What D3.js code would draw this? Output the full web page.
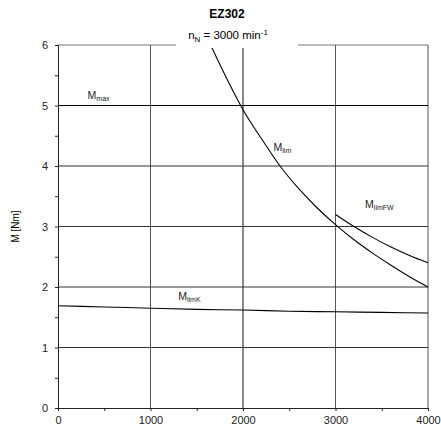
<!DOCTYPE html>
<html lang="en">
<head>
  <meta charset="UTF-8">
  <title>EZ302</title>
  <style>
    html, body { margin: 0; padding: 0; background: #fff; overflow: hidden; }
    svg { display: block; font-family: "Liberation Sans", Arial, sans-serif; }
  </style>
</head>
<body>
  <svg width="441" height="435"></svg>
</body>
<script src="https://d3js.org/d3.v7.min.js"></script>
<script type="text/javascript">
  const xTicks = [0, 1000, 2000, 3000, 4000]
  const yTicks = [0, 1, 2, 3, 4, 5, 6]

  // torque curves: [speed min-1, torque Nm]
  const mMax = [[0, 5], [4000, 5]]
  const mLim = [[1650, 6], [1800, 5.52], [2000, 4.93], [2200, 4.45], [2400, 4.0], [2600, 3.63],
    [2800, 3.31], [3000, 3.03], [3200, 2.78], [3400, 2.56], [3600, 2.36], [3800, 2.17], [4000, 2.0]]
  const mLimFW = [[3000, 3.2], [3200, 3.0], [3400, 2.82], [3600, 2.66], [3800, 2.52], [4000, 2.4]]
  const mLimK = [[0, 1.69], [500, 1.67], [1000, 1.65], [1500, 1.63], [2000, 1.62],
    [2500, 1.6], [3000, 1.59], [3500, 1.58], [4000, 1.57]]

  const labels = [
    { main: 'M', sub: 'max', at: [320, 5.1] },
    { main: 'M', sub: 'lim', at: [2330, 4.25] },
    { main: 'M', sub: 'limFW', at: [3320, 3.3] },
    { main: 'M', sub: 'limK', at: [1300, 1.78] }
  ]

  const svg = d3.select('svg')
  const x = d3.scaleLinear().domain([0, 4000]).range([58, 428])
  const y = d3.scaleLinear().domain([0, 6]).range([408, 45])

  // grid
  svg.append('g')
    .selectAll('line')
    .data(xTicks.slice(1))
    .enter().append('line')
      .attr('x1', d => x(d)).attr('x2', d => x(d))
      .attr('y1', y(0)).attr('y2', y(6))
      .attr('stroke', d => d === 2000 ? '#111' : '#555')
      .attr('stroke-width', 1)

  svg.append('g')
    .selectAll('line')
    .data(yTicks.slice(1))
    .enter().append('line')
      .attr('x1', x(0)).attr('x2', x(4000))
      .attr('y1', d => y(d)).attr('y2', d => y(d))
      .attr('stroke', d => d === 6 ? '#777' : '#333')
      .attr('stroke-width', 1)

  // axes
  const yAxis = svg.append('g')
    .attr('transform', `translate(${x(0)},0)`)
    .call(d3.axisLeft(y).tickValues(d3.range(0, 6.01, 0.5)).tickSize(3)
      .tickFormat(d => Number.isInteger(d) ? d : ''))
  const xAxis = svg.append('g')
    .attr('transform', `translate(0,${y(0)})`)
    .call(d3.axisBottom(x).tickValues(d3.range(0, 4001, 500)).tickSize(3)
      .tickFormat(d => d % 1000 === 0 ? d : ''))

  ;[yAxis, xAxis].forEach(a => {
    a.select('.domain').attr('stroke', '#222')
    a.selectAll('.tick line').attr('stroke', '#222')
    a.selectAll('text').attr('font-size', 11).attr('fill', '#222')
      .attr('font-family', '"Liberation Sans", Arial, sans-serif')
  })
  yAxis.selectAll('text').attr('x', -10).attr('dy', '0.36em')
  xAxis.selectAll('text').attr('y', 8)

  // curves
  const line = d3.line().x(d => x(d[0])).y(d => y(d[1])).curve(d3.curveMonotoneX)
  svg.append('g')
    .selectAll('path')
    .data([mMax, mLim, mLimFW, mLimK])
    .enter().append('path')
      .attr('d', line)
      .attr('fill', 'none')
      .attr('stroke', '#000')
      .attr('stroke-width', 1.1)

  // curve labels
  const lab = svg.append('g')
    .selectAll('text')
    .data(labels)
    .enter().append('text')
      .attr('x', d => x(d.at[0]))
      .attr('y', d => y(d.at[1]))
      .attr('font-size', 10.5)
      .attr('fill', '#222')
  lab.append('tspan').text(d => d.main)
  lab.append('tspan').attr('font-size', 7).attr('dy', 2).text(d => d.sub)

  // title
  svg.append('rect')
    .attr('x', 176).attr('y', 22).attr('width', 122).attr('height', 26)
    .attr('fill', '#fff')
  svg.append('text')
    .attr('x', 227).attr('y', 18)
    .attr('text-anchor', 'middle')
    .attr('font-size', 12).attr('font-weight', 'bold')
    .text('EZ302')
  const sub = svg.append('text')
    .attr('x', 228).attr('y', 39)
    .attr('text-anchor', 'middle')
    .attr('font-size', 11.5)
  sub.append('tspan').text('n')
  sub.append('tspan').attr('font-size', 8).attr('dy', 3).text('N')
  sub.append('tspan').attr('dy', -3).text(' = 3000 min')
  sub.append('tspan').attr('font-size', 8).attr('dy', -4).text('-1')

  // y label
  svg.append('text')
    .attr('transform', `translate(19,${y(3)}) rotate(-90)`)
    .attr('text-anchor', 'middle')
    .attr('font-size', 10)
    .text('M [Nm]')
</script>
</html>
